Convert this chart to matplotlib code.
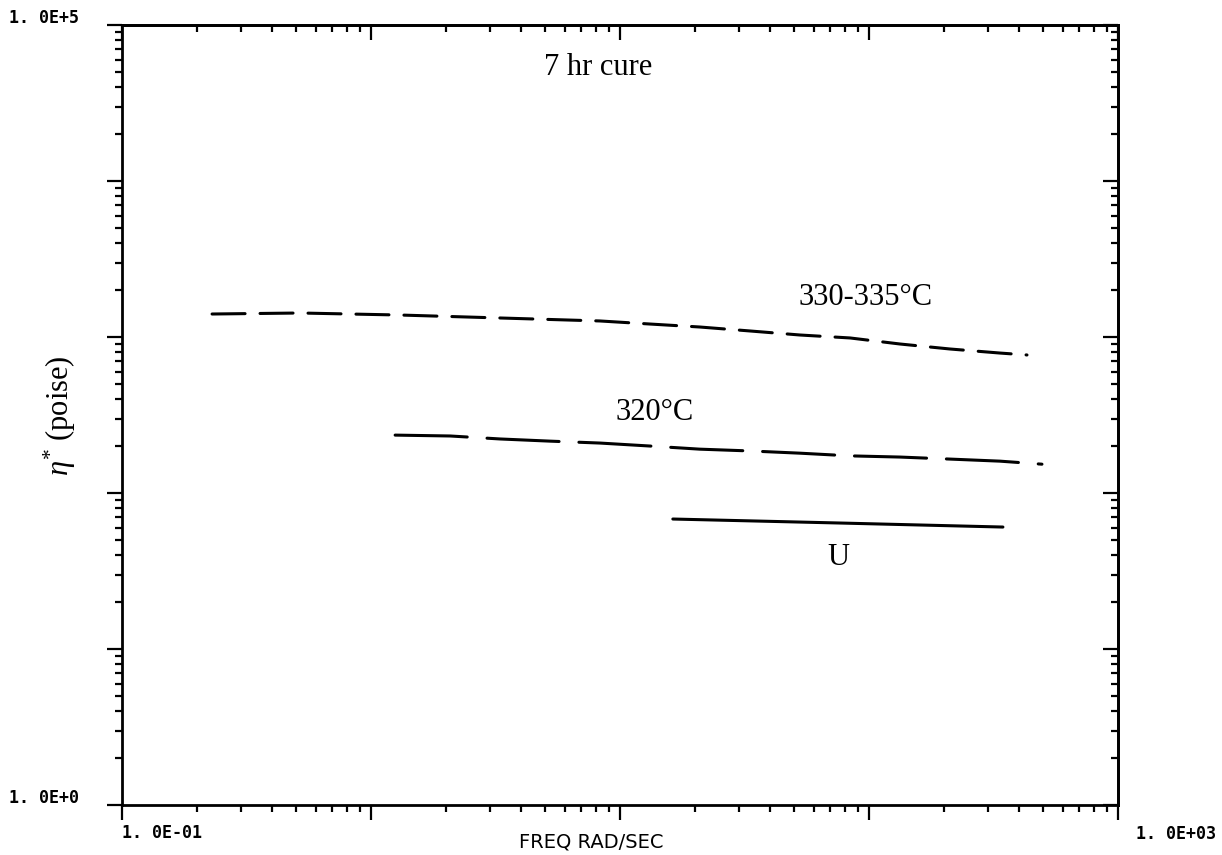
import matplotlib
matplotlib.use("Agg")
import matplotlib.pyplot as plt
from matplotlib.ticker import LogLocator, NullFormatter

plt.rcParams["mathtext.fontset"] = "custom"
plt.rcParams["mathtext.rm"] = "Liberation Serif"
plt.rcParams["mathtext.it"] = "Liberation Serif:italic"

SERIF = "Liberation Serif"
PLOTTER = "DejaVu Sans Mono"

# 330-335 C curve (dashed, short dashes)
freq_330 = [0.230, 0.519, 1.31, 3.30, 8.31, 13.2, 20.9, 33.3, 52.8, 83.9, 133, 211, 336, 431]
eta_330 = [1404, 1425, 1383, 1324, 1267, 1211, 1159, 1093, 1030, 986, 902, 838, 789, 767]

# 320 C curve (dashed, long dashes)
freq_320 = [1.25, 2.08, 3.30, 5.24, 8.31, 13.2, 20.9, 33.3, 52.8, 83.9, 133, 211, 336, 495]
eta_320 = [235, 232, 222, 215, 209, 200, 191, 186, 180, 173, 170, 165, 160, 153]

# U curve (solid)
freq_u = [16.3, 76.5, 345]
eta_u = [68.1, 64.2, 60.5]


def _log_ticks(axis):
    axis.set_major_locator(LogLocator(base=10, numticks=12))
    axis.set_minor_locator(LogLocator(base=10, subs=range(2, 10), numticks=12))
    axis.set_major_formatter(NullFormatter())
    axis.set_minor_formatter(NullFormatter())


fig = plt.figure(figsize=(12.22, 8.55), dpi=100, facecolor="white")
ax = fig.add_axes([122 / 1222, 1 - 805 / 855, 996 / 1222, 780 / 855])
ax.set_xscale("log")
ax.set_yscale("log")
ax.set_xlim(1e-1, 1e3)
ax.set_ylim(1e0, 1e5)

lw = 2.2
ax.plot(freq_330, eta_330, color="black", lw=lw, linestyle=(0, (10.8, 4.9)),
        dash_capstyle="round")
ax.plot(freq_320, eta_320, color="black", lw=lw, linestyle=(0, (23.6, 6.5)),
        dash_capstyle="round")
ax.plot(freq_u, eta_u, color="black", lw=lw, solid_capstyle="round")

for spine in ax.spines.values():
    spine.set_linewidth(2.0)

_log_ticks(ax.xaxis)
_log_ticks(ax.yaxis)
ax.tick_params(which="major", direction="out", length=11, width=1.6)
ax.tick_params(which="minor", direction="out", length=5, width=1.6)

# top and right ticks point into the box
top = ax.secondary_xaxis("top")
right = ax.secondary_yaxis("right")
_log_ticks(top.xaxis)
_log_ticks(right.yaxis)
for sec in (top, right):
    sec.tick_params(which="major", direction="in", length=11, width=1.6)
    sec.tick_params(which="minor", direction="in", length=5, width=1.6)
    for spine in sec.spines.values():
        spine.set_linewidth(2.0)

# axis end labels in plotter style
lab = dict(family=PLOTTER, fontweight="bold", fontsize=12, color="black")
fig.text(9 / 1222, 1 - 18 / 855, "1. 0E+5", ha="left", va="center", **lab)
fig.text(9 / 1222, 1 - 798 / 855, "1. 0E+0", ha="left", va="center", **lab)
fig.text(122 / 1222, 1 - 833 / 855, "1. 0E-01", ha="left", va="center", **lab)
fig.text(1136 / 1222, 1 - 834 / 855, "1. 0E+03", ha="left", va="center", **lab)
fig.text(591 / 1222, 1 - 842 / 855, "FREQ RAD/SEC", ha="center", va="center",
         family="DejaVu Sans", fontsize=14, color="black")

fig.text(60 / 1222, 1 - 416 / 855, r"$\eta^{*}$ (poise)", rotation=90,
         ha="center", va="center", family=SERIF, fontsize=22)

ax.text(0.478, 0.936, "7 hr cure", transform=ax.transAxes, ha="center",
        va="baseline", family=SERIF, fontsize=22)
ax.text(0.747, 0.641, "330-335°C", transform=ax.transAxes, ha="center",
        va="baseline", family=SERIF, fontsize=22)
ax.text(0.535, 0.494, "320°C", transform=ax.transAxes, ha="center",
        va="baseline", family=SERIF, fontsize=22)
ax.text(0.719, 0.308, "U", transform=ax.transAxes, ha="center",
        va="baseline", family=SERIF, fontsize=22)

fig.savefig("out.png", dpi=100, facecolor="white")
